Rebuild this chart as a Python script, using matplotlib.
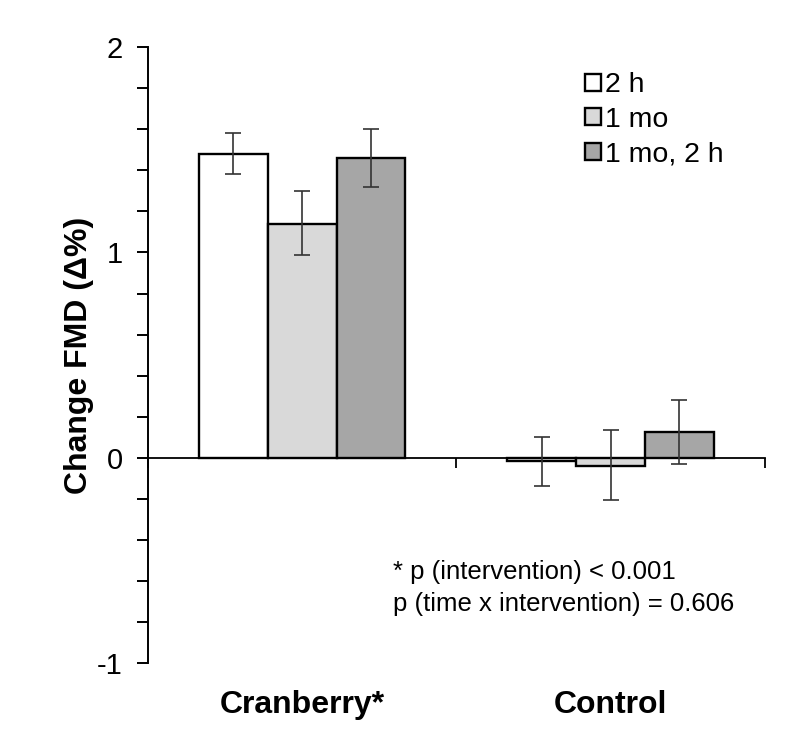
import numpy as np
import matplotlib
matplotlib.use("Agg")
import matplotlib.pyplot as plt

groups = ["Cranberry*", "Control"]
series = ["2 h", "1 mo", "1 mo, 2 h"]
colors = ["#ffffff", "#d9d9d9", "#a6a6a6"]

# mean change and error bar ends, per series: [Cranberry, Control]
means = [[1.48, -0.015], [1.14, -0.04], [1.46, 0.125]]
err_lo = [[1.38, -0.135], [0.99, -0.205], [1.32, -0.03]]
err_hi = [[1.58, 0.10], [1.30, 0.135], [1.60, 0.28]]

note = "* p (intervention) < 0.001\np (time x intervention) = 0.606"


def main():
    plt.rcParams["font.family"] = ["Liberation Sans", "DejaVu Sans"]

    fig = plt.figure(figsize=(8, 7.36), dpi=100)
    ax = fig.add_axes([0.185, 0.099, 0.771, 0.837])

    x = np.arange(len(groups))
    width = 0.223
    for i, name in enumerate(series):
        pos = x + (i - 1) * width
        m = np.array(means[i])
        lo = m - np.array(err_lo[i])
        hi = np.array(err_hi[i]) - m
        ax.bar(pos, m, width, color=colors[i], edgecolor="black",
               linewidth=1.7, label=name, zorder=2)
        ax.errorbar(pos, m, yerr=[lo, hi], fmt="none", ecolor="#333333",
                    elinewidth=1.2, capsize=6, capthick=1.2, zorder=3)

    ax.set_xlim(-0.5, 1.5)
    ax.set_ylim(-1, 2)

    ax.spines["top"].set_visible(False)
    ax.spines["right"].set_visible(False)
    ax.spines["bottom"].set_position(("data", 0))
    ax.spines["bottom"].set_linewidth(1.3)
    ax.spines["left"].set_linewidth(1.4)

    ax.set_xticks([-0.5, 0.5, 1.5])
    ax.set_xticklabels(["", "", ""])
    ax.tick_params(axis="x", direction="out", length=7, width=1.3)

    ax.set_yticks([-1, 0, 1, 2])
    ax.set_yticklabels(["-1", "0", "1", "2"])
    ax.set_yticks(np.arange(-1, 2.01, 0.2), minor=True)
    ax.tick_params(axis="y", which="both", direction="out", length=8,
                   width=1.4, labelsize=21, pad=10)

    for xi, g in zip(x, groups):
        ax.text(xi, -0.068, g, transform=ax.get_xaxis_transform(),
                ha="center", va="center", fontsize=23, fontweight="bold")

    fig.text(79 / 800, 1 - 355 / 736, "Change FMD (\u0394%)", rotation=90,
             ha="center", va="center", fontsize=23, fontweight="bold")

    ax.legend(loc="upper left", bbox_to_anchor=(571 / 800, 1 - 58 / 736),
              bbox_transform=fig.transFigure, frameon=False, fontsize=20.5,
              handlelength=0.55, handleheight=0.55, handletextpad=0.15,
              labelspacing=0.3, borderpad=0)

    fig.text(393 / 800, 1 - 588 / 736, note, ha="left", va="center",
             fontsize=18.5, linespacing=1.4)

    fig.savefig("out.png", dpi=100)


main()
